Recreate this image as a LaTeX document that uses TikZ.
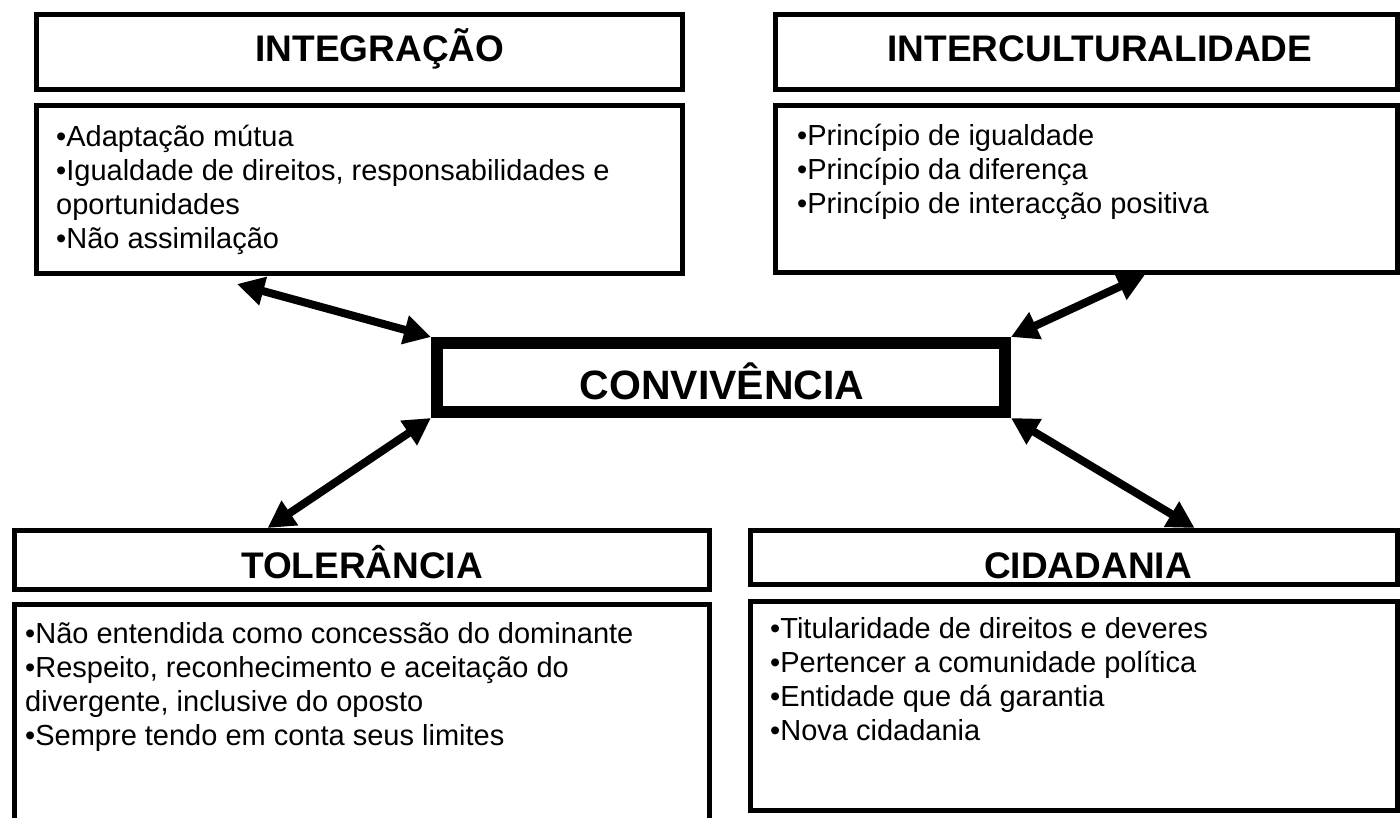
\documentclass[tikz,border=0pt]{standalone}
\usepackage{fontspec}
\setmainfont{Liberation Sans}
\usetikzlibrary{arrows.meta,calc}

\tikzset{
  titlebox/.style = {draw, line width = 5pt, inner sep = 0pt},
  listbox/.style = {draw, line width = 5pt, inner sep = 0pt},
  centrebox/.style = {draw, line width = 12pt, inner sep = 0pt},
  titletext/.style = {anchor = base, inner sep = 0pt, font = \bfseries\fontsize{37}{44}\selectfont},
  listtext/.style = {anchor = base west, inner sep = 0pt, align = left, font = \fontsize{29}{34}\selectfont},
  linkarrow/.style = {line width = 8pt, {Triangle[length = 27pt, width = 28pt]}-{Triangle[length = 27pt, width = 28pt]}}
}

\begin{document}
\begin{tikzpicture}[x = 1pt, y = -1pt]
\path [use as bounding box, fill = white] (0, 0) rectangle (1400, 818);
%\draw[very thin, color = gray](0, 0) grid [step = 100] (1400, 818);
% boxes
\node (integ) at (359.5, 52) [titlebox, minimum width = 646pt, minimum height = 75pt] {};
\node (integbody) at (359.5, 189.5) [listbox, minimum width = 646pt, minimum height = 168pt] {};
\node (inter) at (1086.5, 52) [titlebox, minimum width = 622pt, minimum height = 75pt] {};
\node (interbody) at (1086.5, 189) [listbox, minimum width = 622pt, minimum height = 167pt] {};
\node (conv) at (721, 377.5) [centrebox, minimum width = 568pt, minimum height = 69pt] {};
\node (toler) at (362, 560) [titlebox, minimum width = 695pt, minimum height = 59pt] {};
\node (tolerbody) at (362, 716) [listbox, minimum width = 695pt, minimum height = 223pt] {};
\node (cidad) at (1074, 557.5) [titlebox, minimum width = 647pt, minimum height = 54pt] {};
\node (cidadbody) at (1074, 706) [listbox, minimum width = 647pt, minimum height = 209pt] {};
% titles
\node (integtitle) at (380, 62) [titletext] {INTEGRAÇÃO};
\node (intertitle) at (1100, 62) [titletext] {INTERCULTURALIDADE};
\node (convtitle) at (722, 399) [titletext, font = \bfseries\fontsize{41}{49}\selectfont] {CONVIVÊNCIA};
\node (tolertitle) at (362, 578) [titletext] {TOLERÂNCIA};
\node (cidadtitle) at (1088, 578) [titletext] {CIDADANIA};
% lists (placed by the baseline of their last line)
\node (integlist) at (56, 249) [listtext] {•Adaptação mútua\\•Igualdade de direitos, responsabilidades e\\oportunidades\\•Não assimilação};
\node (interlist) at (797, 214) [listtext] {•Princípio de igualdade\\•Princípio da diferença\\•Princípio de interacção positiva};
\node (tolerlist) at (25, 745) [listtext] {•Não entendida como concessão do dominante\\•Respeito, reconhecimento e aceitação do\\divergente, inclusive do oposto\\•Sempre tendo em conta seus limites};
\node (cidadlist) at (770, 740) [listtext] {•Titularidade de direitos e deveres\\•Pertencer a comunidade política\\•Entidade que dá garantia\\•Nova cidadania};
% arrows
\coordinate (integend) at ($(integbody.south west)!0.312!(integbody.south east) + (0, 8)$);
\coordinate (interend) at ($(interbody.south west)!0.593!(interbody.south east)$);
\coordinate (tolerend) at ($(toler.north west)!0.365!(toler.north east)$);
\coordinate (cidadend) at ($(cidad.north west)!0.685!(cidad.north east)$);
\draw [linkarrow] (integend) -- (conv.north west);
\draw [linkarrow] (interend) -- (conv.north east);
\draw [linkarrow] (conv.south west) -- (tolerend);
\draw [linkarrow] (conv.south east) -- (cidadend);
\end{tikzpicture}
\end{document}
